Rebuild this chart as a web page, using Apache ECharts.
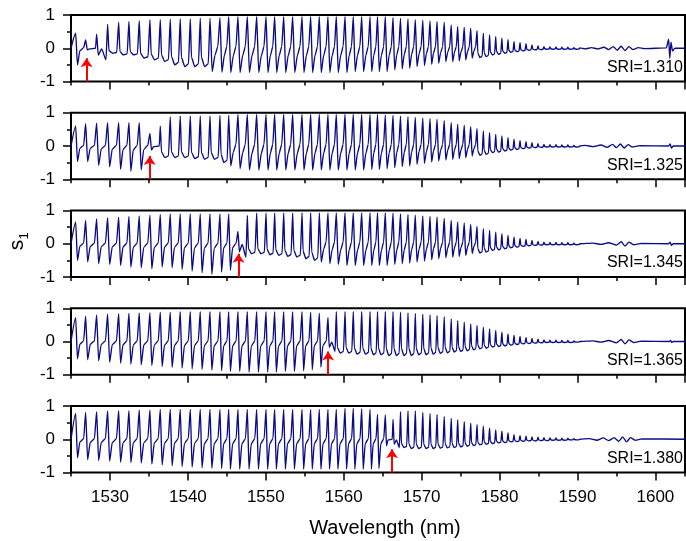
<!DOCTYPE html>
<html>
<head>
<meta charset="utf-8">
<script src="https://cdn.jsdelivr.net/npm/echarts/dist/echarts.min.js"></script>
<style>
    html, body { margin: 0; padding: 0; background: #fff; }
    #chart { width: 686px; height: 541px; }
</style>
</head>
<body>
<div id="chart"></div>
<script>
// fringe peak positions (nm), the same comb in every panel
var fringeNm = [
    1525.60, 1526.88, 1528.29, 1529.70, 1531.12, 1532.44, 1533.76, 1535.13, 1536.46, 1537.74,
    1539.02, 1540.31, 1541.59, 1542.84, 1544.12, 1545.24, 1546.43, 1547.63, 1548.83, 1550.03,
    1551.14, 1552.30, 1553.45, 1554.65, 1555.76, 1556.87, 1557.98, 1559.05, 1560.17, 1561.23,
    1562.31, 1563.38, 1564.34, 1565.34, 1566.33, 1567.29, 1568.25, 1569.19, 1570.15, 1571.08,
    1571.98, 1572.90, 1573.80, 1574.63, 1575.47, 1576.30, 1577.11, 1577.92, 1578.72, 1579.51,
    1580.30, 1581.09, 1581.86, 1582.63, 1583.40, 1584.17, 1584.94, 1585.70, 1586.47, 1587.24,
    1588.00, 1588.77, 1589.54
];

var sriLabels = ['SRI=1.310', 'SRI=1.325', 'SRI=1.345', 'SRI=1.365', 'SRI=1.380'];
var arrowNm = [1527.0, 1535.1, 1546.5, 1558.0, 1566.2];
var arrowTip = -0.3;
var xTicks = [1530, 1540, 1550, 1560, 1570, 1580, 1590, 1600];
var yTicks = [-1, 0, 1];

// SRI = 1.310
var peak1 = [
    0.45, 0.25, 0.42, 0.72, 0.78, 0.80, 0.82, 0.85, 0.86, 0.87,
    0.88, 0.88, 0.90, 0.90, 0.92, 0.95, 0.95, 0.95, 0.95, 0.95,
    0.95, 0.95, 0.95, 0.95, 0.95, 0.95, 0.95, 0.95, 0.95, 0.95,
    0.95, 0.95, 0.95, 0.95, 0.92, 0.90, 0.88, 0.86, 0.84, 0.82,
    0.80, 0.78, 0.70, 0.65, 0.63, 0.60, 0.53, 0.45, 0.40, 0.35,
    0.30, 0.26, 0.20, 0.17, 0.14, 0.10, 0.07, 0.05, 0.04, 0.04,
    0.03, 0.03, 0.02
];
var trough1 = [
    -0.50, -0.05, -0.35, -0.15, -0.20, -0.20, -0.30, -0.35, -0.40, -0.50,
    -0.55, -0.55, -0.55, -0.70, -0.72, -0.73, -0.73, -0.73, -0.73, -0.73,
    -0.73, -0.73, -0.73, -0.73, -0.73, -0.73, -0.73, -0.73, -0.73, -0.70,
    -0.70, -0.70, -0.70, -0.70, -0.65, -0.62, -0.60, -0.55, -0.52, -0.48,
    -0.45, -0.40, -0.40, -0.38, -0.35, -0.30, -0.28, -0.25, -0.20, -0.18,
    -0.15, -0.12, -0.10, -0.08, -0.06, -0.05, -0.04, -0.03, -0.03, -0.03,
    -0.03, -0.03, -0.03
];
var shape1 = 'afb' + 'uuuuuuuuuu' + 'vvvvvvvvvvvvvvvvvvvvvvvvvvvvvvvvv' + 'uuuuuuuuuuuuuuuuu';
var tail1 = [
    [1590.3, 0.01], [1591.0, -0.02], [1591.8, 0.02], [1592.6, -0.02], [1593.4, 0.03],
    [1594.0, -0.04], [1594.6, 0.05], [1595.1, -0.06], [1595.6, 0.06], [1596.1, -0.07],
    [1596.6, 0.05], [1597.1, -0.04], [1597.8, 0.02], [1598.6, -0.01], [1601.4, 0.01],
    [1601.7, 0.27], [1601.85, -0.30], [1602.0, 0.18], [1602.2, -0.08], [1602.5, 0.0],
    [1603.8, 0.0]
];

// SRI = 1.325
var peak2 = [
    0.60, 0.67, 0.69, 0.70, 0.70, 0.70, 0.70, 0.38, 0.60, 0.87,
    0.90, 0.90, 0.90, 0.90, 0.92, 0.92, 0.95, 0.95, 0.95, 0.95,
    0.95, 0.95, 0.95, 0.95, 0.95, 0.95, 0.95, 0.95, 0.95, 0.95,
    0.95, 0.95, 0.95, 0.93, 0.92, 0.90, 0.88, 0.86, 0.84, 0.82,
    0.80, 0.76, 0.70, 0.65, 0.62, 0.58, 0.52, 0.45, 0.40, 0.35,
    0.30, 0.25, 0.20, 0.16, 0.13, 0.10, 0.07, 0.05, 0.04, 0.04,
    0.03, 0.03, 0.02
];
var trough2 = [
    -0.47, -0.47, -0.58, -0.63, -0.70, -0.76, -0.72, -0.12, -0.35, -0.35,
    -0.35, -0.38, -0.40, -0.40, -0.50, -0.60, -0.68, -0.72, -0.72, -0.72,
    -0.72, -0.72, -0.72, -0.72, -0.72, -0.72, -0.72, -0.72, -0.72, -0.72,
    -0.72, -0.70, -0.70, -0.68, -0.65, -0.62, -0.60, -0.55, -0.52, -0.48,
    -0.45, -0.42, -0.40, -0.38, -0.35, -0.30, -0.28, -0.25, -0.20, -0.18,
    -0.15, -0.12, -0.10, -0.08, -0.06, -0.05, -0.04, -0.03, -0.03, -0.03,
    -0.03, -0.03, -0.03
];
var shape2 = 'aaaaaaaf' + 'uuuuuuu' + 'vvvvvvvvvvvvvvvvvvvvvvvvvvvvvvv' + 'uuuuuuuuuuuuuuuuu';
var tail2 = [
    [1590.3, 0.0], [1591.0, 0.02], [1592.0, -0.02], [1593.0, 0.03], [1593.8, -0.04],
    [1594.5, 0.05], [1595.0, -0.05], [1595.5, 0.06], [1596.0, -0.06], [1596.5, 0.04],
    [1597.0, -0.03], [1598.0, 0.01], [1601.7, 0.0], [1601.9, 0.06], [1602.05, -0.06],
    [1602.3, 0.0], [1603.8, 0.0]
];

// SRI = 1.345
var peak3 = [
    0.65, 0.70, 0.75, 0.78, 0.80, 0.82, 0.84, 0.86, 0.88, 0.90,
    0.90, 0.90, 0.90, 0.90, 0.90, 0.90, 0.37, 0.85, 0.92, 0.92,
    0.92, 0.92, 0.92, 0.93, 0.93, 0.93, 0.93, 0.93, 0.93, 0.93,
    0.93, 0.93, 0.93, 0.93, 0.92, 0.90, 0.88, 0.86, 0.84, 0.82,
    0.80, 0.76, 0.70, 0.65, 0.62, 0.58, 0.52, 0.45, 0.40, 0.35,
    0.30, 0.25, 0.20, 0.16, 0.13, 0.10, 0.07, 0.05, 0.04, 0.04,
    0.03, 0.03, 0.02
];
var trough3 = [
    -0.50, -0.55, -0.60, -0.62, -0.65, -0.70, -0.72, -0.75, -0.70, -0.72,
    -0.77, -0.82, -0.87, -0.92, -0.85, -0.80, -0.40, -0.30, -0.30, -0.33,
    -0.35, -0.38, -0.40, -0.45, -0.50, -0.55, -0.60, -0.62, -0.65, -0.65,
    -0.65, -0.65, -0.65, -0.65, -0.62, -0.60, -0.58, -0.55, -0.52, -0.48,
    -0.45, -0.42, -0.40, -0.38, -0.35, -0.30, -0.28, -0.25, -0.20, -0.18,
    -0.15, -0.12, -0.10, -0.08, -0.06, -0.05, -0.04, -0.03, -0.03, -0.03,
    -0.03, -0.03, -0.03
];
var shape3 = 'aaaaaaaaaaaaaaaa' + 'b' + 'uuuuuuuu' + 'vvvvvvvvvvvvvvvvvvvvv' + 'uuuuuuuuuuuuuuuuu';
var tail3 = [
    [1590.3, 0.0], [1592.0, 0.02], [1593.0, -0.02], [1594.0, 0.03], [1595.0, -0.04],
    [1595.6, 0.06], [1596.1, -0.07], [1596.6, 0.05], [1597.2, -0.03], [1598.2, 0.01],
    [1601.7, 0.0], [1601.9, 0.05], [1602.05, -0.05], [1602.3, 0.0], [1603.8, 0.0]
];

// SRI = 1.365
var peak4 = [
    0.72, 0.76, 0.80, 0.82, 0.84, 0.85, 0.86, 0.87, 0.88, 0.88,
    0.90, 0.90, 0.90, 0.90, 0.90, 0.90, 0.90, 0.90, 0.90, 0.90,
    0.90, 0.90, 0.90, 0.90, 0.88, 0.85, 0.72, 0.90, 0.90, 0.90,
    0.90, 0.90, 0.90, 0.90, 0.90, 0.88, 0.86, 0.84, 0.82, 0.80,
    0.78, 0.74, 0.68, 0.63, 0.58, 0.53, 0.48, 0.43, 0.38, 0.33,
    0.28, 0.23, 0.18, 0.15, 0.12, 0.09, 0.07, 0.05, 0.04, 0.04,
    0.03, 0.03, 0.02
];
var trough4 = [
    -0.52, -0.55, -0.58, -0.62, -0.65, -0.68, -0.70, -0.72, -0.75, -0.78,
    -0.80, -0.82, -0.84, -0.86, -0.88, -0.90, -0.90, -0.92, -0.92, -0.92,
    -0.92, -0.90, -0.90, -0.88, -0.85, -0.77, -0.30, -0.35, -0.35, -0.38,
    -0.38, -0.40, -0.40, -0.42, -0.42, -0.42, -0.42, -0.40, -0.40, -0.38,
    -0.36, -0.34, -0.32, -0.30, -0.28, -0.25, -0.22, -0.20, -0.17, -0.15,
    -0.13, -0.11, -0.09, -0.07, -0.06, -0.05, -0.04, -0.03, -0.03, -0.03,
    -0.03, -0.03, -0.02
];
var shape4 = 'aaaaaaaaaaaaaaaaaaaaaaaaaa' + 'b' + 'uuuuuuuuuuuuuuuuuuuuuuuuuuuuuuuuuuuu';
var tail4 = [
    [1590.3, 0.0], [1592.0, 0.02], [1593.0, -0.02], [1594.0, 0.03], [1595.0, -0.04],
    [1595.6, 0.06], [1596.1, -0.07], [1596.6, 0.05], [1597.2, -0.03], [1598.2, 0.01],
    [1601.8, 0.0], [1601.95, 0.03], [1602.1, -0.03], [1602.3, 0.0], [1603.8, 0.0]
];

// SRI = 1.380
var peak5 = [
    0.78, 0.81, 0.83, 0.85, 0.86, 0.86, 0.88, 0.88, 0.90, 0.90,
    0.90, 0.90, 0.90, 0.90, 0.90, 0.90, 0.90, 0.90, 0.90, 0.90,
    0.90, 0.90, 0.90, 0.90, 0.90, 0.90, 0.90, 0.90, 0.93, 0.93,
    0.92, 0.90, 0.75, 0.73, 0.60, 0.83, 0.85, 0.85, 0.80, 0.77,
    0.74, 0.68, 0.63, 0.58, 0.53, 0.48, 0.44, 0.39, 0.33, 0.28,
    0.24, 0.19, 0.14, 0.11, 0.09, 0.07, 0.06, 0.05, 0.04, 0.04,
    0.03, 0.03, 0.02
];
var trough5 = [
    -0.56, -0.61, -0.64, -0.66, -0.69, -0.70, -0.72, -0.75, -0.77, -0.80,
    -0.82, -0.84, -0.86, -0.87, -0.88, -0.90, -0.90, -0.90, -0.90, -0.90,
    -0.90, -0.90, -0.90, -0.90, -0.90, -0.90, -0.90, -0.90, -0.90, -0.90,
    -0.90, -0.90, -0.88, -0.20, -0.25, -0.25, -0.28, -0.28, -0.28, -0.28,
    -0.27, -0.26, -0.25, -0.23, -0.21, -0.19, -0.17, -0.15, -0.13, -0.11,
    -0.10, -0.08, -0.07, -0.06, -0.05, -0.05, -0.04, -0.04, -0.03, -0.03,
    -0.03, -0.02, -0.02
];
var shape5 = 'aaaaaaaaaaaaaaaaaaaaaaaaaaaaaaaaa' + 'fb' + 'uuuuuuuuuuuuuuuuuuuuuuuuuuuu';
var tail5 = [
    [1590.3, 0.0], [1591.5, 0.02], [1592.5, -0.03], [1593.3, 0.04], [1594.0, -0.04],
    [1594.7, 0.05], [1595.3, -0.06], [1595.8, 0.07], [1596.3, -0.08], [1596.8, 0.05],
    [1597.4, -0.03], [1598.3, 0.01], [1603.8, 0.0]
];

var panels = [
    { peak: peak1, trough: trough1, shape: shape1, tail: tail1 },
    { peak: peak2, trough: trough2, shape: shape2, tail: tail2 },
    { peak: peak3, trough: trough3, shape: shape3, tail: tail3 },
    { peak: peak4, trough: trough4, shape: shape4, tail: tail4 },
    { peak: peak5, trough: trough5, shape: shape5, tail: tail5 }
];

// where the line goes between one peak and the next (fraction of the fringe spacing, level)
var fringeShapes = {
    a: function (t) { return [[0.18, t], [0.42, 0.15 * t], [0.8, 0.02]]; },
    v: function (t) { return [[0.22, t], [0.5, 0.3 * t], [0.78, 0.05]]; },
    u: function (t) { return [[0.12, 0.5 * t], [0.45, t], [0.82, 0.85 * t]]; },
    f: function (t) { return [[0.15, t], [0.35, -0.02], [0.9, 0.0]]; },
    b: function (t) { return [[0.15, 0.6 * t], [0.45, -0.02], [0.85, t]]; }
};

var xMin = 1525, xMax = 1603.8;
var gridLeft = 71, gridRight = 1, panelTop = 15, panelH = 66.5, panelStep = 97.75;
var lineColor = '#0b0b86';
var font = '"Liberation Sans", Arial, sans-serif';

function buildTrace(p) {
    var pts = [[xMin, 0]];
    for (var i = 0; i < fringeNm.length; i++) {
        var x0 = fringeNm[i];
        var next = i + 1 < fringeNm.length ? fringeNm[i + 1] : x0 + 0.77;
        var d = next - x0;
        pts.push([x0, p.peak[i]]);
        fringeShapes[p.shape.charAt(i)](p.trough[i]).forEach(function (s) {
            pts.push([x0 + s[0] * d, s[1]]);
        });
    }
    return pts.concat(p.tail);
}

(function () {
    var chart = echarts.init(document.getElementById('chart'), null, { renderer: 'canvas' });
    var plotW = 686 - gridLeft - gridRight;
    var majorLeft = gridLeft + (xTicks[0] - xMin) * plotW / (xMax - xMin);

    var grid = [], xAxis = [], yAxis = [], series = [], title = [];
    panels.forEach(function (p, i) {
        var top = panelTop + i * panelStep;
        var last = i === panels.length - 1;
        // main plot box
        grid.push({ left: gridLeft, right: gridRight, top: top, height: panelH,
            show: true, borderColor: '#000', borderWidth: 2, backgroundColor: 'transparent' });
        // invisible box only for the 10 nm major ticks and labels
        grid.push({ left: majorLeft, right: gridRight, top: top, height: panelH });

        xAxis.push({
            gridIndex: 2 * i, type: 'value', min: xMin, max: xMax, interval: 5,
            axisLine: { show: false, onZero: false },
            axisTick: { length: 4, lineStyle: { color: '#000', width: 1.5 } },
            axisLabel: { show: false },
            splitLine: { show: false },
            name: last ? 'Wavelength (nm)' : '',
            nameLocation: 'middle', nameGap: 46,
            nameTextStyle: { fontSize: 20, color: '#000', fontFamily: font, padding: [0, 0, 0, 14] }
        });
        xAxis.push({
            gridIndex: 2 * i + 1, type: 'value', min: xTicks[0], max: xMax, interval: 10,
            axisLine: { show: false, onZero: false },
            axisTick: { length: 8, lineStyle: { color: '#000', width: 1.5 } },
            axisLabel: { show: last, fontSize: 17, color: '#000', fontFamily: font, margin: 16,
                showMaxLabel: false,
                formatter: function (v) { return String(v); } },
            splitLine: { show: false }
        });
        yAxis.push({
            gridIndex: 2 * i, type: 'value', min: yTicks[0], max: yTicks[2], interval: 1,
            axisLine: { show: false, onZero: false },
            axisTick: { length: 8, lineStyle: { color: '#000', width: 1.5 } },
            minorTick: { show: true, splitNumber: 2, length: 4, lineStyle: { color: '#000', width: 1.5 } },
            axisLabel: { fontSize: 17, color: '#000', fontFamily: font, margin: 16 },
            splitLine: { show: false },
            minorSplitLine: { show: false }
        });
        yAxis.push({ gridIndex: 2 * i + 1, type: 'value', min: -1, max: 1, show: false });

        series.push({
            type: 'line',
            xAxisIndex: 2 * i, yAxisIndex: 2 * i,
            data: buildTrace(p),
            showSymbol: false, symbol: 'none',
            smooth: 0.2, smoothMonotone: 'x',
            lineStyle: { color: lineColor, width: 1.35 },
            silent: true,
            markLine: {
                silent: true, animation: false,
                symbol: ['none', 'arrow'], symbolSize: 9,
                label: { show: false },
                lineStyle: { color: '#ff0000', width: 2, type: 'solid' },
                emphasis: { disabled: true },
                data: [[{ coord: [arrowNm[i], -1] }, { coord: [arrowNm[i], arrowTip] }]]
            }
        });

        title.push({
            text: sriLabels[i], right: 3, top: top + panelH - 22, padding: 0,
            textStyle: { fontSize: 16, fontWeight: 'normal', color: '#000', fontFamily: font }
        });
    });

    var option = {
        animation: false,
        backgroundColor: '#fff',
        title: title,
        grid: grid,
        xAxis: xAxis,
        yAxis: yAxis,
        series: series,
        graphic: [
            { type: 'text', x: 17, y: 245, rotation: Math.PI / 2,
              style: { text: 's', font: '21px ' + font, fill: '#000', textAlign: 'center', textVerticalAlign: 'middle' } },
            { type: 'text', x: 24, y: 236, rotation: Math.PI / 2,
              style: { text: '1', font: '13px ' + font, fill: '#000', textAlign: 'center', textVerticalAlign: 'middle' } }
        ]
    };

    chart.setOption(option);
    window.addEventListener('resize', function () {
        chart.resize();
    });
})();
</script>
</body>
</html>
